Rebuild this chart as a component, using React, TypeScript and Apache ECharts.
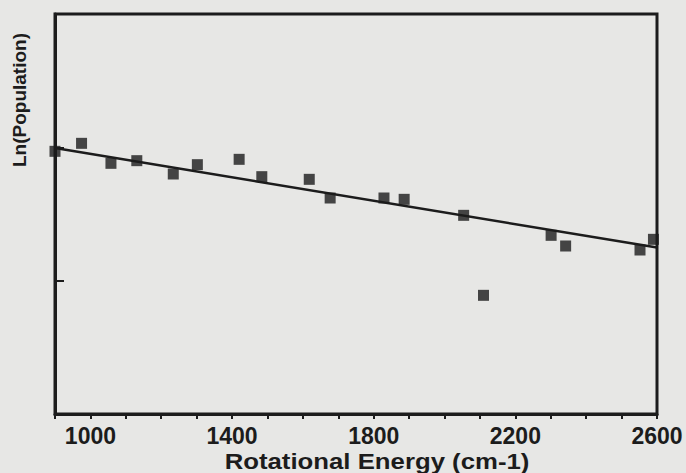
import React, { useEffect, useRef } from "react";
import * as echarts from "echarts";

// Measured points: rotational energy (cm-1) vs Ln(population)
const energy = [900, 975, 1058, 1131, 1234, 1302, 1420, 1484, 1618, 1677, 1829, 1886, 2054, 2110, 2301, 2342, 2552, 2590];
const lnPop = [1.97, 2.03, 1.88, 1.9, 1.8, 1.87, 1.91, 1.78, 1.76, 1.62, 1.62, 1.61, 1.49, 0.89, 1.34, 1.26, 1.23, 1.31];

// Linear fit line end points
const fitEnergy = [900, 2600];
const fitLnPop = [1.995, 1.248];

// Labelled x ticks
const xTickLabels = [1000, 1400, 1800, 2200, 2600];

const INK = "#1c1c1c";
const FONT = "'Liberation Sans', Arial, Helvetica, sans-serif";

export default function App() {
  const ref = useRef<HTMLDivElement>(null);

  useEffect(() => {
    if (!ref.current) return;
    const chart = echarts.init(ref.current, undefined, { renderer: "svg" });
    chart.setOption({
      animation: false,
      backgroundColor: "#e7e7e5",
      grid: {
        left: 55,
        right: 29,
        top: 14,
        bottom: 59,
        show: true,
        borderColor: INK,
        borderWidth: 3,
        backgroundColor: "transparent",
      },
      xAxis: {
        type: "value",
        min: 900,
        max: 2600,
        interval: 100,
        axisLine: { show: true, lineStyle: { color: INK, width: 3 } },
        axisTick: { show: true, inside: false, length: 5, lineStyle: { color: INK, width: 2 } },
        splitLine: { show: false },
        axisLabel: {
          interval: 0,
          hideOverlap: false,
          margin: 10,
          color: INK,
          fontFamily: FONT,
          fontWeight: "bold",
          fontSize: 23,
          lineHeight: 23,
          formatter: (v: number) => (xTickLabels.includes(v) ? String(v) : ""),
        },
      },
      yAxis: {
        type: "value",
        min: 0,
        max: 3,
        interval: 1,
        axisLine: { show: true, lineStyle: { color: INK, width: 3 } },
        axisTick: { show: true, inside: true, length: 9, lineStyle: { color: INK, width: 2 } },
        splitLine: { show: false },
        axisLabel: { show: false },
      },
      graphic: [
        {
          type: "text",
          x: 377,
          y: 449,
          scaleX: 1.12,
          style: {
            text: "Rotational Energy (cm-1)",
            textAlign: "center",
            textVerticalAlign: "top",
            fill: INK,
            font: `bold 23px ${FONT}`,
          },
        },
        {
          type: "text",
          x: 19,
          y: 100,
          rotation: Math.PI / 2,
          style: {
            text: "Ln(Population)",
            textAlign: "center",
            textVerticalAlign: "middle",
            fill: INK,
            font: `bold 19px ${FONT}`,
          },
        },
      ],
      series: [
        {
          type: "line",
          data: fitEnergy.map((x, i) => [x, fitLnPop[i]]),
          symbol: "none",
          lineStyle: { color: INK, width: 2.5 },
          z: 2,
        },
        {
          type: "scatter",
          data: energy.map((x, i) => [x, lnPop[i]]),
          symbol: "rect",
          symbolSize: 11,
          clip: false,
          itemStyle: { color: INK },
          z: 3,
        },
      ],
    });
    return () => chart.dispose();
  }, []);

  return (
    <div
      ref={ref}
      style={{ position: "fixed", left: 0, top: 0, width: 686, height: 473 }}
    />
  );
}
